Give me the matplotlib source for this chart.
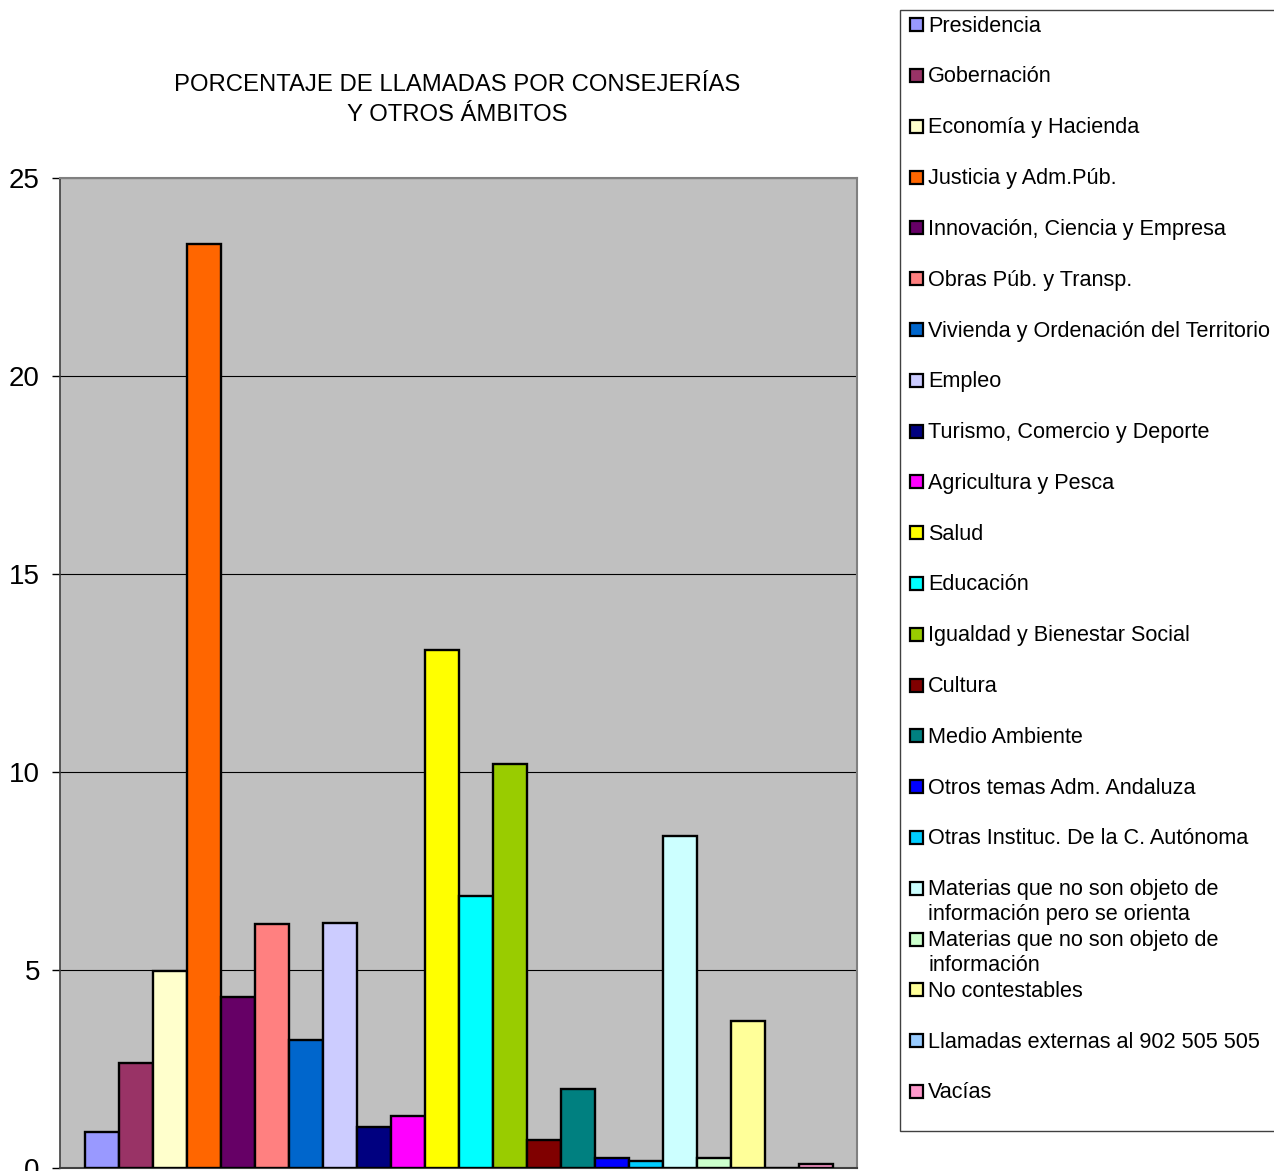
import matplotlib
matplotlib.use("Agg")
import matplotlib.pyplot as plt
from matplotlib.patches import Rectangle

plt.rcParams['font.family'] = ['Liberation Sans', 'DejaVu Sans']

W, H = 1274, 1171

categories = ['Presidencia', 'Gobernación', 'Economía y Hacienda',
              'Justicia y Adm.Púb.', 'Innovación, Ciencia y Empresa',
              'Obras Púb. y Transp.', 'Vivienda y Ordenación del Territorio',
              'Empleo', 'Turismo, Comercio y Deporte', 'Agricultura y Pesca',
              'Salud', 'Educación', 'Igualdad y Bienestar Social', 'Cultura',
              'Medio Ambiente', 'Otros temas Adm. Andaluza',
              'Otras Instituc. De la C. Autónoma',
              'Materias que no son objeto de\ninformación pero se orienta',
              'Materias que no son objeto de\ninformación',
              'No contestables', 'Llamadas externas al 902 505 505', 'Vacías']
values = [0.91, 2.66, 4.98, 23.33, 4.33, 6.16, 3.23, 6.18, 1.04, 1.31,
          13.08, 6.88, 10.21, 0.71, 2.0, 0.25, 0.18, 8.38, 0.25, 3.71,
          0.0, 0.1]
colors = ['#9999FF', '#993366', '#FFFFCC', '#FF6600', '#660066', '#FF8080',
          '#0066CC', '#CCCCFF', '#000080', '#FF00FF', '#FFFF00', '#00FFFF',
          '#99CC00', '#800000', '#008080', '#0000FF', '#00CCFF', '#CCFFFF',
          '#CCFFCC', '#FFFF99', '#99CCFF', '#FF99CC']
title_lines = ['PORCENTAJE DE LLAMADAS POR CONSEJERÍAS', 'Y OTROS ÁMBITOS']

fig = plt.figure(figsize=(W / 100, H / 100), dpi=100)
fig.patch.set_facecolor('white')

# plot area in pixels: x 60..857, y 178..1168
ax = fig.add_axes([60 / W, (H - 1168) / H, 797 / W, 990 / H])
ax.set_facecolor('#C0C0C0')

x = list(range(len(values)))
ax.bar(x, values, width=1.0, color=colors, edgecolor='black', linewidth=1.7, zorder=3)

ax.set_xlim(-0.5 - 25 / 34, len(values) - 0.5 + 24 / 34)
ax.set_ylim(0, 25)
ax.set_yticks([0, 5, 10, 15, 20, 25])
ax.yaxis.grid(True, color='black', linewidth=0.8, zorder=1)
ax.set_axisbelow(True)
ax.set_xticks([])
ax.tick_params(axis='y', direction='out', length=6, width=1, pad=8.5,
               labelsize=20, colors='black')

for side in ['top', 'right']:
    ax.spines[side].set_color('#808080')
    ax.spines[side].set_linewidth(1.5)
ax.spines['left'].set_color('#404040')
ax.spines['left'].set_linewidth(1.2)
ax.spines['bottom'].set_color('#404040')
ax.spines['bottom'].set_linewidth(1.5)

# title
for k, line in enumerate(title_lines):
    fig.text(457 / W, 1 - (91 + 30 * k) / H, line, ha='center', va='baseline',
             fontsize=17.2, color='black')

# legend drawn by hand (Excel-style spacing)
frame = Rectangle((900 / W, 1 - 1131 / H), 400 / W, (1131 - 10) / H,
                  transform=fig.transFigure, facecolor='white',
                  edgecolor='#404040', linewidth=1.0, zorder=0)
fig.patches.append(frame)

for i, (lab, col) in enumerate(zip(categories, colors)):
    base = 31.7 + 50.8 * i
    sq = Rectangle((910 / W, 1 - (base - 0.5) / H), 13 / W, 13 / H,
                   transform=fig.transFigure, facecolor=col,
                   edgecolor='black', linewidth=1.6, zorder=2)
    fig.patches.append(sq)
    for k, part in enumerate(lab.split('\n')):
        fig.text(928 / W, 1 - (base + 25 * k) / H, part, ha='left',
                 va='baseline', fontsize=15.6, color='black')

fig.savefig('out.png', dpi=100)
